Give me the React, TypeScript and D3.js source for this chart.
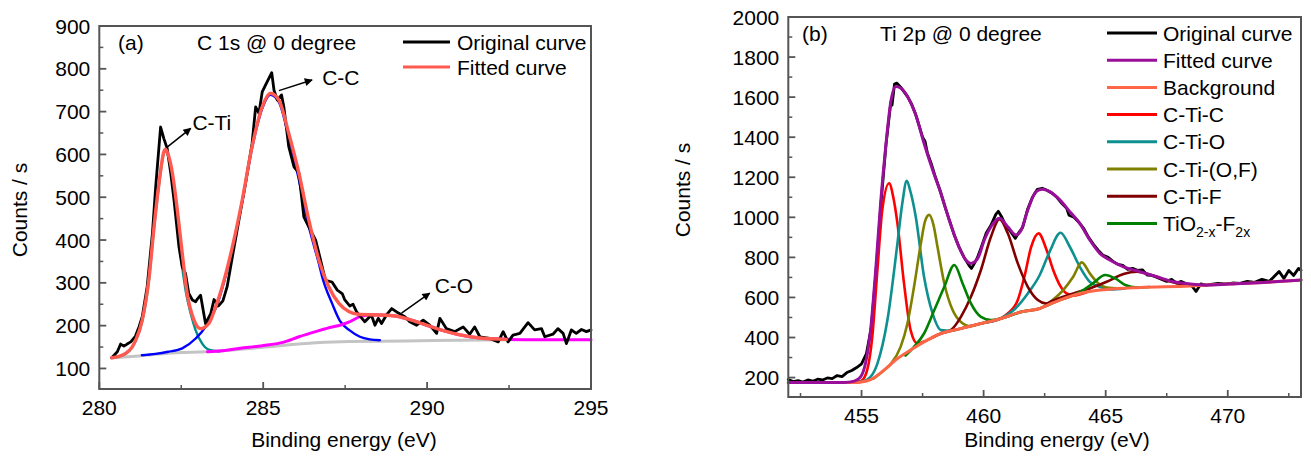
import React from 'react';
import * as d3 from 'd3';

type Pt = [number, number];

// ---------- panel (a) : C 1s ----------
const aXTicks = [280, 285, 290, 295];
const aXMinor = [282.5, 287.5, 292.5];
const aYTicks = [100, 200, 300, 400, 500, 600, 700, 800, 900];
const aYMinor = [150, 250, 350, 450, 550, 650, 750, 850];

const aOriginal: Pt[] = [
  [280.38, 125], [280.55, 139], [280.65, 157], [280.75, 152], [280.85, 157], [280.96, 162], [281.1, 175],
  [281.21, 197], [281.31, 221], [281.46, 291], [281.62, 415], [281.72, 524], [281.87, 664], [281.97, 637],
  [282.07, 614], [282.18, 556], [282.28, 493], [282.43, 384], [282.53, 337], [282.63, 322], [282.73, 275],
  [282.84, 260], [282.94, 256], [282.99, 262], [283.09, 271], [283.24, 205], [283.4, 228], [283.5, 261],
  [283.63, 246], [283.77, 258], [283.9, 291], [284.06, 361], [284.26, 447], [284.46, 532], [284.66, 625],
  [284.77, 711], [284.87, 696], [284.97, 746], [285.07, 762], [285.26, 791], [285.33, 750], [285.43, 727],
  [285.56, 739], [285.63, 711], [285.78, 618], [285.94, 571], [286.09, 556], [286.24, 454], [286.39, 431],
  [286.6, 400], [286.7, 369], [286.9, 306], [287.1, 302], [287.26, 283], [287.41, 275], [287.49, 260],
  [287.64, 246], [287.74, 250], [287.85, 232], [288.1, 209], [288.3, 225], [288.41, 201], [288.51, 217],
  [288.61, 205], [288.76, 225], [288.92, 240], [289.07, 232], [289.32, 221], [289.47, 209], [289.68, 201],
  [289.88, 213], [290.08, 201], [290.29, 182], [290.39, 217], [290.59, 193], [290.84, 186], [291.1, 197],
  [291.3, 180], [291.45, 197], [291.61, 174], [291.91, 170], [292.17, 162], [292.32, 186], [292.47, 162],
  [292.62, 178], [292.83, 182], [293.08, 207], [293.28, 190], [293.49, 193], [293.59, 174], [293.84, 180],
  [293.99, 193], [294.15, 182], [294.25, 158], [294.4, 190], [294.55, 182], [294.71, 191], [294.86, 186],
  [295, 190],
];

const aFitted: Pt[] = [
  [280.38, 125], [280.6, 128], [280.8, 135], [281.0, 150], [281.11, 166], [281.31, 213], [281.52, 314],
  [281.67, 431], [281.82, 532], [281.97, 606], [282.02, 612], [282.1, 600], [282.23, 556], [282.38, 470],
  [282.53, 369], [282.68, 275], [282.89, 213], [283.09, 193], [283.34, 205], [283.55, 244], [283.75, 291],
  [284.06, 384], [284.36, 493], [284.66, 618], [284.97, 711], [285.22, 743], [285.48, 727], [285.78, 649],
  [286.09, 556], [286.39, 447], [286.7, 353], [287.0, 291], [287.31, 252], [287.61, 233], [287.95, 226],
  [288.56, 225], [289.07, 222], [289.68, 209], [290.29, 193], [290.9, 180], [291.61, 171], [292.42, 168],
];

const aCTi: Pt[] = [
  [280.38, 125], [280.8, 134], [281.0, 149], [281.11, 164], [281.31, 210], [281.52, 310], [281.67, 428],
  [281.82, 528], [281.97, 603], [282.02, 609], [282.1, 597], [282.23, 550], [282.38, 455], [282.48, 370],
  [282.63, 283], [282.79, 228], [282.94, 189], [283.14, 158], [283.34, 144], [283.65, 140],
];

const aCC: Pt[] = [
  [281.3, 131], [281.72, 134], [282.1, 139], [282.53, 147], [282.94, 170], [283.24, 197], [283.45, 228],
  [283.55, 240], [283.75, 287], [284.06, 380], [284.36, 490], [284.66, 615], [284.97, 707], [285.22, 739],
  [285.48, 722], [285.78, 640], [286.09, 540], [286.3, 460], [286.5, 400], [286.7, 345], [286.8, 314],
  [287.1, 252], [287.34, 211], [287.64, 189], [287.95, 174], [288.25, 168], [288.56, 166],
];

const aCO: Pt[] = [
  [283.3, 139], [283.55, 140], [284.3, 147], [285.07, 154], [285.6, 161], [286.09, 174], [286.6, 186],
  [287.1, 197], [287.34, 201], [287.61, 208], [287.95, 221], [288.3, 225], [288.56, 225], [289.07, 222],
  [289.68, 209], [290.29, 193], [290.9, 180], [291.61, 171], [292.42, 168], [293.5, 167], [295, 167],
];

const aBackground: Pt[] = [
  [280.38, 125], [281.0, 128], [282.02, 135], [283.55, 140], [285.07, 150], [286.6, 160], [287.61, 163],
  [289.37, 164], [291, 166], [292.42, 167],
];

// arrows: label, tail [E, counts], head [E, counts], text anchor [E, counts]
const aNotes = [
  { label: 'C-Ti', from: [282.07, 617], to: [282.79, 661], at: [282.84, 657] },
  { label: 'C-C', from: [285.48, 749], to: [286.49, 774], at: [286.8, 762] },
  { label: 'C-O', from: [289.22, 229], to: [290.08, 276], at: [290.23, 276] },
];

// ---------- panel (b) : Ti 2p ----------
const bXTicks = [455, 460, 465, 470];
const bXMinor = [452.5, 457.5, 462.5, 467.5, 472.5];
const bYTicks = [200, 400, 600, 800, 1000, 1200, 1400, 1600, 1800, 2000];
const bYMinor = [300, 500, 700, 900, 1100, 1300, 1500, 1700, 1900];

const bOriginal: Pt[] = [
  [452.0, 190], [452.2, 180], [452.4, 185], [452.6, 178], [452.8, 188], [453.0, 182], [453.2, 192],
  [453.4, 188], [453.6, 198], [453.8, 195], [454.0, 210], [454.2, 205], [454.4, 225], [454.6, 235],
  [454.8, 250], [455.0, 268], [455.2, 320], [455.4, 450], [455.6, 740], [455.8, 1075], [456.0, 1360],
  [456.2, 1575], [456.25, 1560], [456.35, 1665], [456.45, 1670], [456.6, 1650], [456.75, 1625], [456.9, 1600],
  [457.05, 1565], [457.2, 1520], [457.35, 1460], [457.5, 1400], [457.6, 1380], [457.7, 1320], [457.85, 1270],
  [458.0, 1210], [458.2, 1140], [458.4, 1060], [458.6, 985], [458.8, 910], [459.0, 850], [459.2, 800],
  [459.4, 760], [459.5, 745], [459.6, 765], [459.75, 800], [459.9, 850], [460.1, 920], [460.3, 960],
  [460.5, 1015], [460.6, 1030], [460.75, 1000], [460.9, 960], [461.1, 930], [461.3, 895], [461.45, 925],
  [461.6, 950], [461.8, 1040], [462.0, 1100], [462.2, 1140], [462.4, 1145], [462.6, 1135], [462.8, 1120],
  [463.0, 1100], [463.2, 1070], [463.4, 1045], [463.5, 1010], [463.7, 1000], [463.9, 975], [464.1, 945],
  [464.3, 900], [464.5, 865], [464.7, 835], [464.9, 810], [465.1, 800], [465.3, 780], [465.5, 765],
  [465.7, 760], [465.9, 740], [466.1, 745], [466.3, 735], [466.5, 738], [466.7, 712], [466.9, 710],
  [467.1, 700], [467.3, 690], [467.5, 680], [467.7, 690], [467.9, 672], [468.1, 680], [468.3, 668],
  [468.5, 662], [468.7, 630], [468.9, 668], [469.1, 660], [469.3, 665], [469.6, 670], [469.9, 668],
  [470.2, 672], [470.5, 670], [470.8, 680], [471.1, 675], [471.4, 690], [471.7, 680], [471.9, 705],
  [472.1, 730], [472.3, 695], [472.5, 735], [472.7, 710], [472.9, 745], [473.0, 735],
];

const bFitted: Pt[] = [
  [452.0, 175], [454.28, 175], [454.7, 182], [454.96, 203], [455.16, 270], [455.37, 437], [455.58, 737],
  [455.78, 1070], [455.99, 1353], [456.19, 1570], [456.4, 1653], [456.6, 1645], [456.88, 1603], [457.22, 1512],
  [457.56, 1370], [457.91, 1237], [458.25, 1120], [458.59, 987], [458.93, 870], [459.27, 787], [459.48, 770],
  [459.76, 795], [460.03, 887], [460.3, 953], [460.65, 995], [460.99, 953], [461.33, 912], [461.54, 937],
  [461.81, 1037], [462.15, 1128], [462.4, 1140], [462.71, 1128], [463.12, 1087], [463.53, 1028], [463.94, 970],
  [464.35, 887], [464.76, 820], [465.17, 787], [465.73, 753], [466.41, 728], [467.1, 703], [467.78, 678],
  [468.47, 667], [469.15, 662], [470.52, 670], [471.89, 678], [473.0, 687],
];

const bBackground: Pt[] = [
  [452.0, 175], [454.69, 175], [455.0, 178], [455.37, 190], [455.92, 237], [456.47, 295], [457.01, 337],
  [457.56, 378], [458.25, 420], [459.07, 445], [459.89, 470], [460.71, 495], [461.54, 528], [462.3, 545],
  [462.63, 562], [463.12, 587], [463.94, 620], [465.04, 640], [466.41, 650], [468.47, 657], [469.15, 662],
  [470.52, 670], [471.89, 678], [473.0, 687],
];

const bCTiC: Pt[] = [
  [454.7, 176], [455.0, 185], [455.23, 237], [455.44, 403], [455.65, 737], [455.85, 1037], [456.13, 1170],
  [456.3, 1100], [456.47, 970], [456.74, 670], [457.01, 437], [457.29, 370], [457.56, 380], [458.25, 420],
  [459.07, 445], [459.89, 470], [460.71, 496], [460.99, 520], [461.4, 587], [461.67, 703], [461.95, 853],
  [462.25, 920], [462.58, 837], [462.85, 737], [463.12, 662], [463.4, 620], [463.67, 610], [464.2, 625],
];

const bCTiO: Pt[] = [
  [454.8, 176], [455.23, 190], [455.65, 270], [456.06, 487], [456.47, 870], [456.67, 1070], [456.85, 1182],
  [457.0, 1130], [457.22, 1003], [457.56, 703], [457.91, 520], [458.25, 437], [458.66, 433], [459.07, 445],
  [459.89, 470], [460.71, 495], [461.26, 540], [461.81, 620], [462.3, 712], [462.71, 830], [463.15, 923],
  [463.53, 853], [463.94, 753], [464.35, 678], [464.76, 653], [465.17, 640], [465.8, 645],
];

const bCTiOF: Pt[] = [
  [455.5, 195], [455.92, 237], [456.2, 268], [456.6, 353], [456.88, 470], [457.15, 653], [457.43, 870],
  [457.6, 980], [457.77, 1012], [457.95, 960], [458.11, 853], [458.39, 670], [458.73, 537], [459.07, 478],
  [459.48, 457], [459.89, 470], [460.71, 495], [461.54, 528], [462.3, 545], [462.85, 590], [463.26, 637],
  [463.67, 703], [464.02, 775], [464.35, 720], [464.7, 670], [465.04, 650], [465.6, 645],
];

const bCTiF: Pt[] = [
  [457.9, 400], [458.25, 420], [458.66, 437], [459.07, 503], [459.48, 603], [459.89, 737], [460.3, 903],
  [460.65, 990], [460.99, 920], [461.4, 770], [461.81, 653], [462.22, 587], [462.56, 570], [462.85, 585],
  [463.3, 605], [463.8, 625], [464.35, 645], [465.04, 678], [465.73, 717], [466.28, 728], [466.8, 715],
  [467.4, 688], [468.0, 668], [468.5, 659], [469.1, 662],
];

const bTiOF: Pt[] = [
  [456.8, 310], [457.15, 353], [457.56, 420], [457.98, 537], [458.39, 653], [458.8, 762], [459.14, 670],
  [459.48, 570], [459.89, 503], [460.3, 487], [460.71, 495], [461.54, 528], [462.3, 545], [463.12, 587],
  [463.7, 612], [464.08, 637], [464.5, 673], [464.98, 712], [465.39, 695], [465.8, 662], [466.28, 650],
  [466.8, 652],
];

const FONT = '"Liberation Sans", Arial, Helvetica, sans-serif';
const FS = 21;
const AXIS = '#555';

type Series = { data: Pt[]; color: string; width: number; smooth: boolean };

const Panel = ({ x, y, xTicks, xMinor, yTicks, yMinor, series, ylabX, ylabY, xlabX }: any) => {
  const [x0, x1] = x.range();
  const [y0, y1] = y.range(); // y0 bottom, y1 top
  const smooth = d3.line<Pt>().x(d => x(d[0])).y(d => y(d[1])).curve(d3.curveMonotoneX);
  const raw = d3.line<Pt>().x(d => x(d[0])).y(d => y(d[1]));
  return (
    <g>
      {series.map((s: Series, i: number) => (
        <path key={i} d={(s.smooth ? smooth : raw)(s.data) || ''} fill="none" stroke={s.color}
          strokeWidth={s.width} strokeLinejoin="round" strokeLinecap="round" />
      ))}
      <rect x={x0} y={y1} width={x1 - x0} height={y0 - y1} fill="none" stroke={AXIS} strokeWidth={2} />
      {xTicks.map((t: number) => (
        <g key={'xt' + t}>
          <line x1={x(t)} x2={x(t)} y1={y0} y2={y0 - 7} stroke={AXIS} strokeWidth={1.8} />
          <text x={x(t)} y={y0 + 26} textAnchor="middle" fontSize={FS} fontFamily={FONT}>{t}</text>
        </g>
      ))}
      {xMinor.map((t: number) => (
        <line key={'xm' + t} x1={x(t)} x2={x(t)} y1={y0} y2={y0 - 4} stroke={AXIS} strokeWidth={1.5} />
      ))}
      {yTicks.map((t: number) => (
        <g key={'yt' + t}>
          <line x1={x0} x2={x0 + 7} y1={y(t)} y2={y(t)} stroke={AXIS} strokeWidth={1.8} />
          <text x={x0 - 9} y={y(t)} dy="0.36em" textAnchor="end" fontSize={FS} fontFamily={FONT}>{t}</text>
        </g>
      ))}
      {yMinor.map((t: number) => (
        <line key={'ym' + t} x1={x0} x2={x0 + 4} y1={y(t)} y2={y(t)} stroke={AXIS} strokeWidth={1.5} />
      ))}
      <text transform={`translate(${ylabX},${ylabY}) rotate(-90)`} textAnchor="middle" fontSize={FS}
        fontFamily={FONT}>Counts / s</text>
      <text x={xlabX} y={447} textAnchor="middle" fontSize={FS} fontFamily={FONT}>Binding energy (eV)</text>
    </g>
  );
};

const Legend = ({ items, lx1, lx2, tx, y0, step }: any) => (
  <g>
    {items.map((it: any, i: number) => (
      <g key={i}>
        <line x1={lx1} x2={lx2} y1={y0 + i * step} y2={y0 + i * step} stroke={it.color} strokeWidth={3} />
        <text x={tx} y={y0 + i * step} dy="0.36em" fontSize={FS} fontFamily={FONT}>{it.label}</text>
      </g>
    ))}
  </g>
);

export default function App() {
  const ax = d3.scaleLinear().domain([280, 295]).range([99.3, 591]);
  const ay = d3.scaleLinear().domain([52, 900]).range([389, 26]);
  const bx = d3.scaleLinear().domain([452, 473]).range([788.3, 1301]);
  const by = d3.scaleLinear().domain([103, 2000]).range([397, 17]);

  const aSeries: Series[] = [
    { data: aBackground, color: '#c4c4c4', width: 3, smooth: true },
    { data: aCTi, color: '#008f86', width: 2.4, smooth: true },
    { data: aCC, color: '#0000ff', width: 2.4, smooth: true },
    { data: aCO, color: '#ff00ff', width: 3, smooth: true },
    { data: aOriginal, color: '#000', width: 2.8, smooth: false },
    { data: aFitted, color: '#ff5a50', width: 3.4, smooth: true },
  ];
  const bSeries: Series[] = [
    { data: bOriginal, color: '#000', width: 2.8, smooth: false },
    { data: bCTiC, color: '#ff0000', width: 2.6, smooth: true },
    { data: bCTiO, color: '#0f9090', width: 2.6, smooth: true },
    { data: bCTiOF, color: '#808000', width: 2.6, smooth: true },
    { data: bCTiF, color: '#800000', width: 2.6, smooth: true },
    { data: bTiOF, color: '#008000', width: 2.6, smooth: true },
    { data: bBackground, color: '#ff6647', width: 3, smooth: true },
    { data: bFitted, color: '#9a0f9a', width: 3, smooth: true },
  ];

  const bLegend = [
    { label: 'Original curve', color: '#000' },
    { label: 'Fitted curve', color: '#9a0f9a' },
    { label: 'Background', color: '#ff6647' },
    { label: 'C-Ti-C', color: '#ff0000' },
    { label: 'C-Ti-O', color: '#0f9090' },
    { label: 'C-Ti-(O,F)', color: '#808000' },
    { label: 'C-Ti-F', color: '#800000' },
  ];
  const by0 = 33, bstep = 27.2;

  return (
    <svg width={1311} height={456} style={{ position: 'absolute', left: 0, top: 0, background: '#fff' }}>
      <defs>
        <marker id="arr" viewBox="0 0 10 10" refX="9" refY="5" markerWidth="10" markerHeight="8"
          markerUnits="userSpaceOnUse" orient="auto">
          <path d="M0,0 L10,5 L0,10 z" fill="#000" />
        </marker>
      </defs>

      <Panel x={ax} y={ay} xTicks={aXTicks} xMinor={aXMinor} yTicks={aYTicks} yMinor={aYMinor}
        series={aSeries} ylabX={27} ylabY={210} xlabX={344} />
      <text x={118} y={42} dy="0.36em" fontSize={FS} fontFamily={FONT}>(a)</text>
      <text x={197} y={42} dy="0.36em" fontSize={FS} fontFamily={FONT}>C 1s @ 0 degree</text>
      <Legend items={[{ label: 'Original curve', color: '#000' }, { label: 'Fitted curve', color: '#ff5a50' }]}
        lx1={403} lx2={450} tx={457} y0={42} step={25} />
      {aNotes.map(n => (
        <g key={n.label}>
          <line x1={ax(n.from[0])} y1={ay(n.from[1])} x2={ax(n.to[0])} y2={ay(n.to[1])} stroke="#000"
            strokeWidth={1.5} markerEnd="url(#arr)" />
          <text x={ax(n.at[0])} y={ay(n.at[1])} fontSize={FS} fontFamily={FONT}>{n.label}</text>
        </g>
      ))}

      <Panel x={bx} y={by} xTicks={bXTicks} xMinor={bXMinor} yTicks={bYTicks} yMinor={bYMinor}
        series={bSeries} ylabX={690} ylabY={190} xlabX={1057} />
      <text x={802} y={33} dy="0.36em" fontSize={FS} fontFamily={FONT}>(b)</text>
      <text x={880} y={33} dy="0.36em" fontSize={FS} fontFamily={FONT}>Ti 2p @ 0 degree</text>
      <Legend items={bLegend} lx1={1107} lx2={1157} tx={1163} y0={by0} step={bstep} />
      <line x1={1107} x2={1157} y1={by0 + 7 * bstep} y2={by0 + 7 * bstep} stroke="#008000" strokeWidth={3} />
      <text x={1163} y={by0 + 7 * bstep} dy="0.36em" fontSize={FS} fontFamily={FONT}>
        TiO<tspan fontSize={14} dy="6">2-x</tspan><tspan dy="-6">-F</tspan><tspan fontSize={14} dy="6">2x</tspan>
      </text>
    </svg>
  );
}
